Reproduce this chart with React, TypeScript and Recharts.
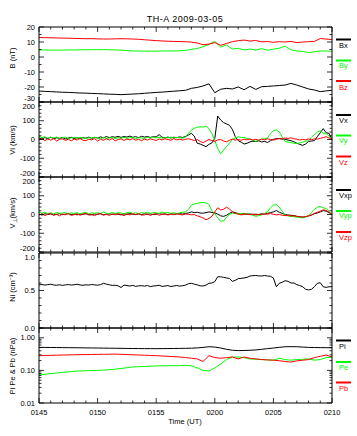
import React from "react";
import { LineChart, Line, XAxis, YAxis } from "recharts";

const W = 357;
const PLOT_H = 75;
const PAD = 20;
const FONT = "'Liberation Sans', Arial, sans-serif";
const GREEN = "#00ff00";
const RED = "#ff0000";
const BLACK = "#000000";

// minutes after 01:45 UT
const timeQ = [
  0, 0.25, 0.5, 0.75, 1, 1.25, 1.5, 1.75, 2, 2.25, 2.5, 2.75, 3, 3.25, 3.5, 3.75,
  4, 4.25, 4.5, 4.75, 5, 5.25, 5.5, 5.75, 6, 6.25, 6.5, 6.75, 7, 7.25, 7.5, 7.75,
  8, 8.25, 8.5, 8.75, 9, 9.25, 9.5, 9.75, 10, 10.25, 10.5, 10.75, 11, 11.25, 11.5, 11.75,
  12, 12.25, 12.5, 12.75, 13, 13.25, 13.5, 13.75, 14, 14.25, 14.5, 14.75, 15, 15.25, 15.5, 15.75,
  16, 16.25, 16.5, 16.75, 17, 17.25, 17.5, 17.75, 18, 18.25, 18.5, 18.75, 19, 19.25, 19.5, 19.75,
  20, 20.25, 20.5, 20.75, 21, 21.25, 21.5, 21.75, 22, 22.25, 22.5, 22.75, 23, 23.25, 23.5, 23.75,
  24, 24.25, 24.5, 24.75, 25,
];
const timeH = [
  0, 0.5, 1, 1.5, 2, 2.5, 3, 3.5, 4, 4.5, 5, 5.5, 6, 6.5, 7, 7.5, 8, 8.5, 9, 9.5,
  10, 10.5, 11, 11.5, 12, 12.5, 13, 13.5, 14, 14.5, 15, 15.5, 16, 16.5, 17, 17.5, 18, 18.5, 19, 19.5,
  20, 20.5, 21, 21.5, 22, 22.5, 23, 23.5, 24, 24.5, 25,
];
const minuteTicks = [0, 1, 2, 3, 4, 5, 6, 7, 8, 9, 10, 11, 12, 13, 14, 15, 16, 17, 18, 19, 20, 21, 22, 23, 24, 25];
const timeMajors = [0, 5, 10, 15, 20, 25];
const timeLabels = ["0145", "0150", "0155", "0200", "0205", "0210"];

// B (nT), every 30 s
const bx = [
  -22.7, -22.9, -23.1, -23.3, -23.5, -23.6, -23.8, -24.0, -24.1, -24.3, -24.4, -24.6, -24.8, -24.9, -25.1, -24.9, -24.7, -24.5, -24.2, -23.9,
  -23.6, -23.4, -23.1, -22.8, -22.5, -22.2, -20.9, -20.3, -19.3, -17.9, -23.8, -21.5, -20.9, -21.3, -20.0, -21.8, -19.6, -21.6, -19.8, -19.6,
  -19.3, -19.0, -18.7, -17.6, -18.7, -20.0, -21.3, -22.0, -23.1, -22.6, -22.2,
];
const by = [
  4.7, 4.7, 4.6, 4.6, 4.6, 4.7, 4.7, 4.8, 4.8, 4.9, 4.9, 4.9, 4.8, 4.7, 4.6, 4.3, 4.0, 4.0, 3.9, 3.9,
  3.9, 4.0, 4.0, 4.1, 4.1, 4.4, 5.1, 5.6, 6.9, 8.4, 10.4, 6.6, 8.0, 5.3, 5.8, 4.7, 5.3, 4.6, 5.6, 4.5,
  5.2, 5.8, 7.2, 4.8, 4.0, 3.7, 2.9, 3.5, 4.0, 4.0, 3.8,
];
const bz = [
  13.0, 12.9, 12.8, 12.7, 12.6, 12.5, 12.4, 12.3, 12.2, 12.2, 12.1, 12.0, 12.0, 12.1, 12.2, 12.1, 12.0, 11.8, 11.5, 11.2,
  10.9, 10.7, 10.5, 10.4, 10.3, 10.2, 9.9, 9.3, 8.2, 8.6, 9.6, 7.8, 9.0, 10.2, 10.9, 11.3, 10.6, 11.0, 10.1, 10.3,
  9.8, 10.2, 10.0, 10.4, 9.6, 10.0, 10.2, 10.4, 12.3, 12.0, 11.6,
];

// Vi (km/s), every 15 s
const vx = [
  8, 3, 10, 5, 12, 4, 9, 6, 11, 3, 8, 12, 5, 9, 4, 10, 7, 13, 6, 11,
  8, 14, 9, 16, 10, 15, 12, 17, 11, 16, 13, 18, 12, 15, 10, 17, 13, 16, 11, 15,
  14, 26, 12, 9, 13, 8, 12, 10, 14, 11, 16, 24, 33, 18, -20, -24, -31, -38, -26, -18,
  6, 125, 104, 90, 83, 76, 54, 15, -6, -14, -24, -20, -13, -9, -11, -7, -13, -10, -16, -6,
  1, 4, 5, 2, 1, -3, -6, -12, -20, -26, -31, -24, -10, -8, -6, 15, 36, 58, 36, 33, -3,
];
const vy = [
  18, 10, 15, 6, 12, 8, 14, 5, 10, 13, 4, 9, 11, 6, 12, 8, 5, 10, 7, 12,
  9, 4, 11, 6, 8, 12, 5, 10, 7, 11, 6, 9, 12, 5, 10, 8, 6, 11, 9, 13,
  8, 12, 7, 10, 9, 13, 8, 11, 10, 7, 12, 33, 50, 60, 65, 68, 66, 72, 58, 33,
  -6, -47, -77, -56, -38, -20, 0, 8, 15, 10, 12, 6, 1, -4, -10, -3, 1, 5, 8, 33,
  47, 51, 40, 15, -10, -14, -17, -20, -21, -18, -14, -9, -6, 12, 26, 40, 47, 33, 33, 18, 0,
];
const vz = [
  -2, 5, -6, 3, -4, 6, -8, 1, 4, -5, 2, -7, 3, -3, 6, -4, -6, 2, -2, 5,
  -8, 1, -4, 4, -3, 6, -7, 0, 3, -5, 2, -2, 5, -4, 1, -6, 2, -3, 4, -1,
  -5, 3, -2, 4, 0, -4, 5, -2, 2, -3, 1, 4, 0, -6, 0, -10, -17, -8, 0, -6,
  -10, -2, 0, -8, -12, -4, 2, -3, 0, -4, 2, -2, 3, -3, 1, -4, 2, -2, 4, 0,
  -3, 2, 5, 3, 8, 6, 9, 4, 2, -3, 1, -2, 3, -1, 4, 2, 6, 10, 15, 8, 2,
];

// V perp (km/s), every 15 s
const vxp = [
  2, -3, 4, 0, 3, -2, 1, 4, -1, 2, 5, 0, 3, -2, 2, 1, 4, 0, -2, 3,
  1, 4, -1, 2, 3, 0, 4, 1, -2, 3, 1, 5, 2, 0, 3, -1, 4, 1, 3, 0,
  2, 5, 1, 3, 0, 4, 2, 3, 5, 2, 6, 8, 14, 10, 12, 8, 7, 10, 14, 11,
  9, 2, -7, -10, -4, 6, 14, 10, 5, 2, 4, 1, 3, 0, 2, -1, 4, 2, 6, 10,
  14, 21, 12, 6, 0, -3, -4, -6, -10, -12, -14, -12, -7, -3, 4, 8, 14, 21, 18, 10, 0,
];
const vyp = [
  14, 6, 12, 4, 9, 3, 11, 6, 8, 12, 2, 9, 5, 10, 4, 8, 12, 3, 9, 6,
  10, 5, 14, 7, 4, 11, 6, 9, 8, 3, 10, 12, 5, 9, 4, 11, 7, 12, 6, 10,
  9, 5, 13, 8, 11, 6, 10, 4, 9, 12, 14, 27, 50, 56, 60, 63, 64, 62, 53, 21,
  4, -18, -36, -34, -14, 0, 7, 5, 3, 6, 0, 4, 2, -4, -10, -6, -2, 6, 14, 36,
  50, 53, 39, 18, -3, -8, -10, -12, -14, -16, -18, -14, -7, 10, 28, 39, 43, 36, 32, 18, 0,
];
const vzp = [
  -3, 4, -6, 2, 5, -4, 1, -7, 3, -2, 6, -5, -1, 4, -4, 2, 6, -3, 0, -6,
  2, 5, -4, 1, -5, 3, -2, 4, 1, -6, 3, -2, 4, -1, 5, -3, -2, 3, -5, 2,
  4, -4, 1, 3, -3, 2, -1, 4, 0, -2, 3, 1, -2, 0, -7, -12, -18, -28, -21, -10,
  14, 36, 25, 28, 39, 30, 14, 6, 2, -2, 1, 3, -1, 2, -3, 1, 0, 3, 2, 5,
  1, -2, 0, -4, -6, -4, -8, -7, -10, -12, -14, -11, -8, -2, 6, 12, 18, 25, 22, 12, 0,
];

// Ni (cm^-3), every 15 s
const ni = [
  0.575, 0.58, 0.572, 0.578, 0.583, 0.574, 0.57, 0.576, 0.568, 0.575, 0.579, 0.572, 0.577, 0.583, 0.574, 0.57, 0.576, 0.572, 0.58, 0.575,
  0.571, 0.578, 0.596, 0.585, 0.576, 0.568, 0.57, 0.562, 0.54, 0.572, 0.566, 0.56, 0.568, 0.555, 0.562, 0.565, 0.558, 0.566, 0.552, 0.56,
  0.563, 0.57, 0.555, 0.56, 0.565, 0.553, 0.56, 0.567, 0.558, 0.564, 0.572, 0.59, 0.596, 0.585, 0.575, 0.562, 0.56, 0.572, 0.596, 0.6,
  0.618, 0.684, 0.682, 0.676, 0.667, 0.66, 0.622, 0.636, 0.658, 0.662, 0.667, 0.675, 0.693, 0.698, 0.7, 0.695, 0.693, 0.7, 0.693, 0.69,
  0.667, 0.551, 0.596, 0.61, 0.631, 0.622, 0.6, 0.6, 0.578, 0.566, 0.551, 0.516, 0.507, 0.516, 0.551, 0.596, 0.604, 0.55, 0.542, 0.55, 0.551,
];

// pressures (nPa), every 30 s
const pi = [
  0.508, 0.507, 0.505, 0.503, 0.5, 0.498, 0.496, 0.494, 0.491, 0.488, 0.486, 0.483, 0.48, 0.478, 0.475, 0.472, 0.47, 0.468, 0.466, 0.465,
  0.464, 0.466, 0.468, 0.47, 0.473, 0.476, 0.48, 0.49, 0.508, 0.532, 0.52, 0.486, 0.444, 0.415, 0.405, 0.408, 0.415, 0.425, 0.444, 0.465,
  0.486, 0.51, 0.532, 0.535, 0.532, 0.52, 0.508, 0.503, 0.5, 0.498, 0.497,
];
const pe = [
  0.073, 0.076, 0.08, 0.083, 0.087, 0.09, 0.094, 0.096, 0.098, 0.099, 0.1, 0.102, 0.105, 0.109, 0.114, 0.121, 0.128, 0.13, 0.132, 0.135,
  0.137, 0.138, 0.139, 0.14, 0.14, 0.143, 0.137, 0.12, 0.1, 0.096, 0.12, 0.157, 0.215, 0.258, 0.258, 0.247, 0.225, 0.22, 0.215, 0.21,
  0.206, 0.236, 0.215, 0.206, 0.215, 0.22, 0.225, 0.206, 0.215, 0.247, 0.252,
];
const pb = [
  0.283, 0.287, 0.29, 0.293, 0.296, 0.299, 0.302, 0.304, 0.306, 0.308, 0.31, 0.312, 0.314, 0.316, 0.312, 0.306, 0.302, 0.297, 0.292, 0.287,
  0.283, 0.277, 0.271, 0.264, 0.258, 0.248, 0.236, 0.225, 0.188, 0.283, 0.247, 0.236, 0.247, 0.258, 0.225, 0.258, 0.236, 0.225, 0.215, 0.21,
  0.206, 0.198, 0.188, 0.18, 0.196, 0.205, 0.215, 0.247, 0.27, 0.296, 0.258,
];

const bTicks = [-30, -25, -20, -15, -10, -5, 0, 5, 10, 15, 20];
const bMajors = [-30, -20, -10, 0, 10, 20];
const vTicks = [-200, -180, -160, -140, -120, -100, -80, -60, -40, -20, 0, 20, 40, 60, 80, 100, 120, 140, 160, 180, 200];
const vMajors = [-200, -100, 0, 100, 200];
const nTicks = [0, 0.1, 0.2, 0.3, 0.4, 0.5, 0.6, 0.7, 0.8, 0.9, 1.0];
const nMajors = [0, 0.5, 1.0];
const pTicks = [0.01, 0.02, 0.03, 0.04, 0.05, 0.06, 0.07, 0.08, 0.09, 0.1, 0.2, 0.3, 0.4, 0.5, 0.6, 0.7, 0.8, 0.9, 1, 2];
const pMajors = [0.01, 0.1, 1];

const bData = timeH.map((t, i) => ({ t, bx: bx[i], by: by[i], bz: bz[i] }));
const viData = timeQ.map((t, i) => ({ t, vx: vx[i], vy: vy[i], vz: vz[i] }));
const vpData = timeQ.map((t, i) => ({ t, vxp: vxp[i], vyp: vyp[i], vzp: vzp[i] }));
const niData = timeQ.map((t, i) => ({ t, ni: ni[i] }));
const pData = timeH.map((t, i) => ({ t, pi: pi[i], pe: pe[i], pb: pb[i] }));

function Tick(props: any) {
  const { x, y, payload, side, majors, fmt, lo, hi } = props;
  const v = payload.value;
  const isMajor = majors.some((m: number) => Math.abs(m - v) < 1e-9);
  const len = isMajor ? 5 : 2.5;
  let line = null;
  let label = null;
  if (side === "left") {
    line = <line x1={x} y1={y} x2={x + len} y2={y} />;
    // labels on a shared panel edge get pushed apart so they don't collide
    let nudge = 0;
    if (lo !== undefined && Math.abs(v - lo) < 1e-9) nudge = -4;
    if (hi !== undefined && Math.abs(v - hi) < 1e-9) nudge = 4;
    if (fmt && isMajor)
      label = (
        <text x={x - 4} y={y + nudge} dy="0.35em" textAnchor="end" stroke="none" fill="#000" fontSize={7.5} fontFamily={FONT}>
          {fmt(v)}
        </text>
      );
  } else if (side === "right") {
    line = <line x1={x} y1={y} x2={x - len} y2={y} />;
  } else if (side === "bottom") {
    line = <line x1={x} y1={y} x2={x} y2={y - len} />;
    if (fmt && isMajor)
      label = (
        <text x={x} y={y + 12} textAnchor="middle" stroke="none" fill="#000" fontSize={7.5} fontFamily={FONT}>
          {fmt(v)}
        </text>
      );
  } else {
    line = <line x1={x} y1={y} x2={x} y2={y + len} />;
  }
  return (
    <g stroke="#000" strokeWidth={0.8}>
      {line}
      {label}
    </g>
  );
}

type Series = { key: string; color: string };

function Panel(props: {
  top: number;
  data: any[];
  series: Series[];
  domain: [number, number];
  yTicks: number[];
  yMajors: number[];
  yFmt: (v: number) => string;
  log?: boolean;
  xLabels?: boolean;
  nudgeLo?: boolean;
  nudgeHi?: boolean;
}) {
  const { top, data, series, domain, yTicks, yMajors, yFmt, log, xLabels, nudgeLo, nudgeHi } = props;
  const h = PLOT_H + 2 * PAD;
  const scale = log ? "log" : "linear";
  const timeFmt = (v: number) => timeLabels[timeMajors.indexOf(v)];
  return (
    <div style={{ position: "absolute", left: 0, top: top - PAD, width: W, height: h }}>
      <LineChart width={W} height={h} data={data} margin={{ top: PAD - 1, bottom: PAD - 1, left: 0, right: 0 }}>
        <XAxis
          xAxisId="b"
          dataKey="t"
          type="number"
          domain={[0, 25]}
          ticks={minuteTicks}
          interval={0}
          height={1}
          tickSize={0}
          tickMargin={0}
          tickLine={false}
          axisLine={{ stroke: "#000" }}
          tick={<Tick side="bottom" majors={timeMajors} fmt={xLabels ? timeFmt : undefined} />}
        />
        <XAxis
          xAxisId="t"
          orientation="top"
          dataKey="t"
          type="number"
          domain={[0, 25]}
          ticks={minuteTicks}
          interval={0}
          height={1}
          tickSize={0}
          tickMargin={0}
          tickLine={false}
          axisLine={{ stroke: "#000" }}
          tick={<Tick side="top" majors={timeMajors} />}
        />
        <YAxis
          yAxisId="l"
          type="number"
          width={39}
          scale={scale}
          domain={domain}
          allowDataOverflow
          ticks={yTicks}
          interval={0}
          tickSize={0}
          tickMargin={0}
          tickLine={false}
          axisLine={{ stroke: "#000" }}
          tick={
            <Tick
              side="left"
              majors={yMajors}
              fmt={yFmt}
              lo={nudgeLo ? domain[0] : undefined}
              hi={nudgeHi ? domain[1] : undefined}
            />
          }
        />
        <YAxis
          yAxisId="r"
          orientation="right"
          type="number"
          width={25}
          scale={scale}
          domain={domain}
          allowDataOverflow
          ticks={yTicks}
          interval={0}
          tickSize={0}
          tickMargin={0}
          tickLine={false}
          axisLine={{ stroke: "#000" }}
          tick={<Tick side="right" majors={yMajors} />}
        />
        {series.map((s) => (
          <Line
            key={s.key}
            xAxisId="b"
            yAxisId="l"
            type="linear"
            dataKey={s.key}
            stroke={s.color}
            strokeWidth={1}
            dot={false}
            isAnimationActive={false}
          />
        ))}
      </LineChart>
    </div>
  );
}

const legends = [
  { label: "Bx", color: BLACK, bar: 39.5, base: 48 },
  { label: "By", color: GREEN, bar: 60.5, base: 68 },
  { label: "Bz", color: RED, bar: 81, base: 90 },
  { label: "Vx", color: BLACK, bar: 115, base: 123 },
  { label: "Vy", color: GREEN, bar: 135.5, base: 143 },
  { label: "Vz", color: RED, bar: 156.5, base: 165 },
  { label: "Vxp", color: BLACK, bar: 190, base: 198 },
  { label: "Vyp", color: GREEN, bar: 211, base: 218 },
  { label: "Vzp", color: RED, bar: 232, base: 239.5 },
  { label: "Pi", color: BLACK, bar: 340.5, base: 349 },
  { label: "Pe", color: GREEN, bar: 362, base: 370 },
  { label: "Pb", color: RED, bar: 382.5, base: 391 },
];

export default function App() {
  return (
    <div style={{ position: "absolute", left: 0, top: 0, width: W, height: 436, background: "#fff" }}>
      <Panel
        top={27}
        data={bData}
        series={[
          { key: "bx", color: BLACK },
          { key: "by", color: GREEN },
          { key: "bz", color: RED },
        ]}
        domain={[-30, 20]}
        yTicks={bTicks}
        yMajors={bMajors}
        yFmt={(v) => String(v)}
        nudgeLo
      />
      <Panel
        top={102}
        data={viData}
        series={[
          { key: "vx", color: BLACK },
          { key: "vy", color: GREEN },
          { key: "vz", color: RED },
        ]}
        domain={[-200, 200]}
        yTicks={vTicks}
        yMajors={vMajors}
        yFmt={(v) => String(v)}
        nudgeLo
        nudgeHi
      />
      <Panel
        top={177}
        data={vpData}
        series={[
          { key: "vxp", color: BLACK },
          { key: "vyp", color: GREEN },
          { key: "vzp", color: RED },
        ]}
        domain={[-200, 200]}
        yTicks={vTicks}
        yMajors={vMajors}
        yFmt={(v) => String(v)}
        nudgeLo
        nudgeHi
      />
      <Panel
        top={253}
        data={niData}
        series={[{ key: "ni", color: BLACK }]}
        domain={[0, 1]}
        yTicks={nTicks}
        yMajors={nMajors}
        yFmt={(v) => v.toFixed(1)}
        nudgeHi
      />
      <Panel
        top={328}
        data={pData}
        series={[
          { key: "pi", color: BLACK },
          { key: "pe", color: GREEN },
          { key: "pb", color: RED },
        ]}
        domain={[0.01, 2]}
        yTicks={pTicks}
        yMajors={pMajors}
        yFmt={(v) => v.toFixed(2)}
        log
        xLabels
      />
      <svg
        width={W}
        height={436}
        style={{ position: "absolute", left: 0, top: 0, pointerEvents: "none" }}
        fontFamily={FONT}
      >
        <text x={185} y={22} textAnchor="middle" fontSize={9} letterSpacing={0.5}>
          TH-A 2009-03-05
        </text>
        <text x={185} y={424} textAnchor="middle" fontSize={7.5}>
          Time (UT)
        </text>
        <text transform="translate(12.5,58) rotate(-90)" textAnchor="middle" dy="0.35em" fontSize={7.5}>
          B (nT)
        </text>
        <text transform="translate(12.5,140) rotate(-90)" textAnchor="middle" dy="0.35em" fontSize={7.5}>
          Vi (km/s)
        </text>
        <text transform="translate(12.5,213) rotate(-90)" textAnchor="middle" dy="0.35em" fontSize={7.5}>
          V<tspan fontSize={5.5} dy={2}>⊥</tspan>
          <tspan dy={-2}>(km/s)</tspan>
        </text>
        <text transform="translate(12.5,287) rotate(-90)" textAnchor="middle" dy="0.35em" fontSize={7.5}>
          Ni (cm⁻³)
        </text>
        <text transform="translate(12.5,366) rotate(-90)" textAnchor="middle" dy="0.35em" fontSize={7.5}>
          Pi Pe &amp; Pb (nPa)
        </text>
        {legends.map((l) => (
          <g key={l.label}>
            <line x1={336} x2={351} y1={l.bar} y2={l.bar} stroke={l.color} strokeWidth={2} />
            <text x={339} y={l.base} fill={l.color} fontSize={7.5}>
              {l.label}
            </text>
          </g>
        ))}
      </svg>
    </div>
  );
}
